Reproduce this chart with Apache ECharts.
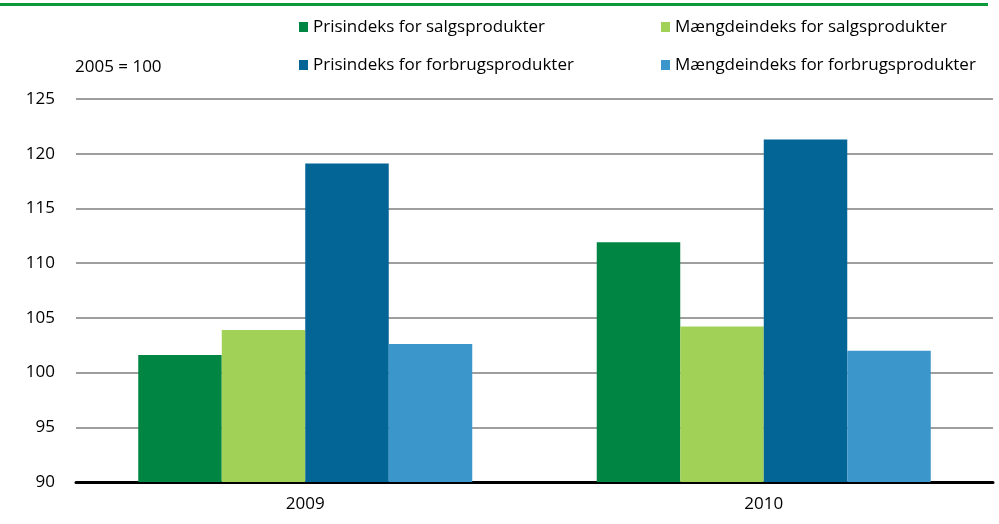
<!DOCTYPE html>
<html>
<head>
<meta charset="utf-8">
<script src="https://cdn.jsdelivr.net/npm/echarts@6/dist/echarts.min.js"></script>
<style>
  html, body { margin: 0; padding: 0; background: #fff; }
  #chart { width: 999px; height: 524px; }
</style>
</head>
<body>
<div id="chart"></div>
<script>
var years = ['2009', '2010'];
var seriesNames = [
    'Prisindeks for salgsprodukter',
    'Mængdeindeks for salgsprodukter',
    'Prisindeks for forbrugsprodukter',
    'Mængdeindeks for forbrugsprodukter'
];
var prisSalg = [101.6, 111.9];
var maengdeSalg = [103.9, 104.2];
var prisForbrug = [119.1, 121.3];
var maengdeForbrug = [102.6, 102.0];
var colors = ['#008542', '#a2d158', '#036496', '#3a96cb'];

var font = '"Open Sans", sans-serif';

var chart = echarts.init(document.getElementById('chart'));

var values = [prisSalg, maengdeSalg, prisForbrug, maengdeForbrug];
var series = [];
for (var i = 0; i < seriesNames.length; i++) {
    series.push({
        name: seriesNames[i],
        type: 'bar',
        data: values[i],
        barWidth: 83.5,
        barGap: '0%',
        itemStyle: { color: colors[i] }
    });
}

// two legend columns, each vertical
var legendStyle = {
    orient: 'vertical',
    top: 13,
    itemWidth: 9,
    itemHeight: 10,
    itemGap: 20,
    icon: 'rect',
    textStyle: { fontFamily: font, fontSize: 17, color: '#000', lineHeight: 18 }
};

var option = {
    animation: false,
    color: colors,
    grid: { left: 76, right: 6, top: 99, bottom: 42 },
    legend: [
        Object.assign({ left: 294, data: [seriesNames[0], seriesNames[2]] }, legendStyle),
        Object.assign({ left: 656, data: [seriesNames[1], seriesNames[3]] }, legendStyle)
    ],
    graphic: [
        {
            type: 'rect',
            shape: { x: 0, y: 3, width: 988, height: 3 },
            style: { fill: '#0a9a3c' }
        },
        {
            type: 'text',
            left: 75,
            top: 59,
            style: { text: '2005 = 100', fontFamily: font, fontSize: 17, fill: '#000' }
        }
    ],
    xAxis: {
        type: 'category',
        data: years,
        axisLine: { lineStyle: { color: '#000', width: 3 } },
        axisTick: { show: false },
        axisLabel: { fontFamily: font, fontSize: 17, color: '#000', margin: 14 }
    },
    yAxis: {
        type: 'value',
        min: 90,
        max: 125,
        interval: 5,
        axisLine: { show: false },
        axisTick: { show: false },
        axisLabel: { fontFamily: font, fontSize: 17, color: '#000', margin: 21 },
        splitLine: { lineStyle: { color: '#9e9e9e', width: 2 } }
    },
    series: series
};

chart.setOption(option);
</script>
</body>
</html>
